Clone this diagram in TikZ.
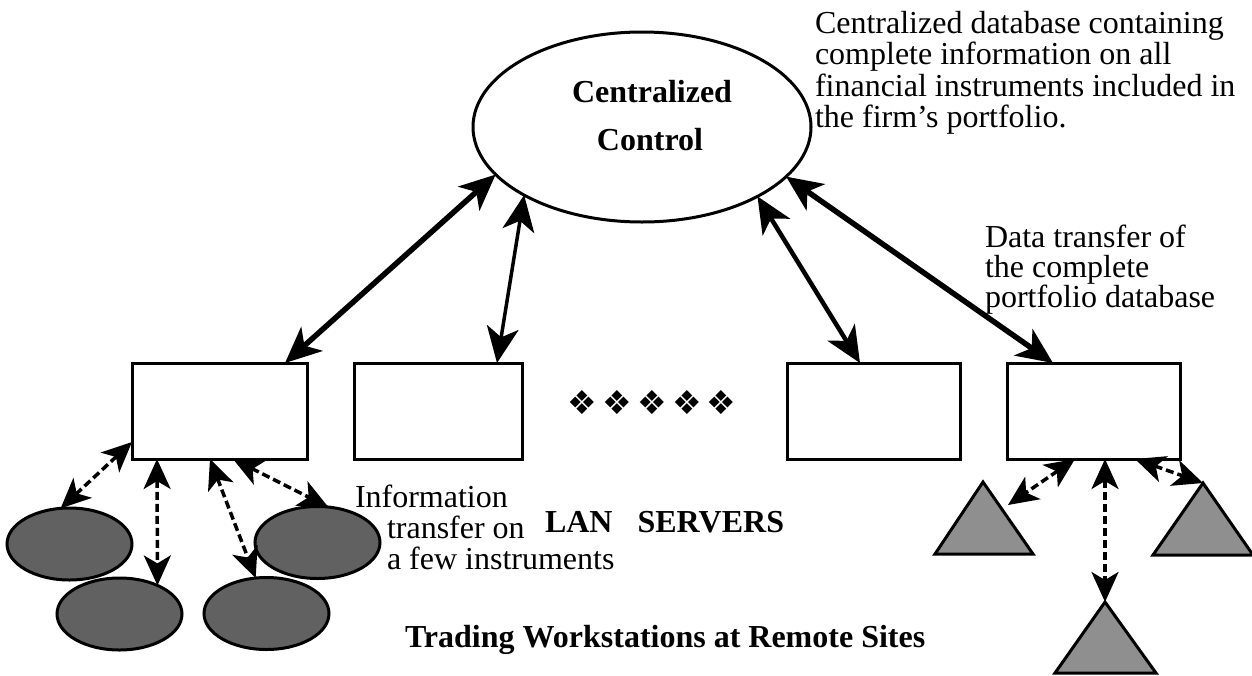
\documentclass[tikz,border=0pt]{standalone}
\usepackage{fontspec}
\setmainfont{Liberation Serif}
\newfontfamily\dingfont{DejaVu Sans}
\usetikzlibrary{arrows.meta,shapes.geometric,calc}

\definecolor{wsgray}{gray}{0.38}
\definecolor{trigray}{gray}{0.56}

\begin{document}
\begin{tikzpicture}[x=1pt,y=-1pt,
  every node/.style={inner sep=0pt, outer sep=0pt},
  txt/.style={font=\fontsize{32}{36}\selectfont, anchor=base west},
  boldtxt/.style={font=\fontsize{32}{36}\selectfont\bfseries, anchor=base west},
  server/.style={draw, line width=3pt, rectangle, minimum height=96pt},
  ws/.style={draw, line width=3pt, ellipse, fill=wsgray,
             minimum width=125pt, minimum height=72pt},
  tri/.style={draw, line width=3pt, fill=trigray, line join=miter},
  link/.style={<->, >={Stealth[length=36pt,width=32pt,inset=10pt]}},
  lanlink/.style={<->, >={Stealth[length=30pt,width=27pt,inset=8pt]},
                  line width=3.5pt, dash pattern=on 8pt off 4pt},
]
\useasboundingbox (0,0) rectangle (1252,675);
\fill[white] (0,0) rectangle (1252,675);

% central database
\node[draw, ellipse, line width=3pt, minimum width=338pt, minimum height=190pt]
  (cc) at (642,127) {};
\node[boldtxt, anchor=base] (cct1) at (652,102) {Centralized};
\node[boldtxt, anchor=base] (cct2) at (650,150) {Control};

% note on the database
\node[txt] (na) at (815,33)  {Centralized database containing};
\node[txt] (nb) at (815,64)  {complete information on all};
\node[txt] (nc) at (815,96)  {financial instruments included in};
\node[txt] (nd) at (815,127) {the firm's portfolio.};

% LAN servers
\node[server, minimum width=175pt] (s1) at (219.5,411) {};
\node[server, minimum width=168pt] (s2) at (438,411) {};
\node[server, minimum width=173pt] (s3) at (873.5,411) {};
\node[server, minimum width=173pt] (s4) at (1093.5,411) {};

\foreach \x [count=\i] in {582,617,652,687,721}
  \node[font=\dingfont\fontsize{33}{33}\selectfont] (orn\i) at (\x,403) {❖};

% full database transfers
\draw[link, line width=5.5pt] ([xshift=153pt]s1.north west) -- (cc.198.8);
\draw[link, line width=3.5pt] ([xshift=143pt]s2.north west) -- (cc.210.2);
\draw[link, line width=4.5pt] ([xshift=73pt]s3.north west)  -- (cc.329.7);
\draw[link, line width=5.5pt] ([xshift=46pt]s4.north west)  -- (cc.341.3);

\node[txt] (dta) at (985,247) {Data transfer of};
\node[txt] (dtb) at (985,277) {the complete};
\node[txt] (dtc) at (985,307) {portfolio database};

% workstations (left site)
\node[ws] (w1) at (69.5,544) {};
\node[ws] (w2) at (119.5,614) {};
\node[ws] (w3) at (266.5,613.5) {};
\node[ws] (w4) at (317.5,542.5) {};

\draw[lanlink] ([yshift=17pt]s1.south west)  -- (w1.104.4);
\draw[lanlink] ([xshift=25pt]s1.south west)  -- (w2.37.5);
\draw[lanlink] ([xshift=78pt]s1.south west)  -- (w3.107.5);
\draw[lanlink] ([xshift=101pt]s1.south west) -- (w4.73.5);

% workstations (right site)
\coordinate (t1) at (983,482);
\coordinate (t2) at (1203,483);
\coordinate (t3) at (1105,602);
\draw[tri] (t1) -- (1033,554) -- (935,554) -- cycle;
\draw[tri] (t2) -- (1253,555) -- (1153,555) -- cycle;
\draw[tri] (t3) -- (1156,673) -- (1055,673) -- cycle;
\coordinate (t1r) at (1008,505);

\draw[lanlink] ([xshift=68pt]s4.south west)  -- (t1r);
\draw[lanlink] ([xshift=98pt]s4.south west)  -- (t3);
\draw[lanlink] ([xshift=128pt]s4.south west) -- (t2);

% labels
\node[txt] (ia) at (355,507) {Information};
\node[txt] (ib) at (387,538) {transfer on};
\node[txt] (ic) at (387,569) {a few instruments};
\node[boldtxt] (lan) at (545,532) {LAN\hspace{25pt}SERVERS};
\node[boldtxt] (trd) at (405,647) {Trading Workstations at Remote Sites};
\end{tikzpicture}
\end{document}
